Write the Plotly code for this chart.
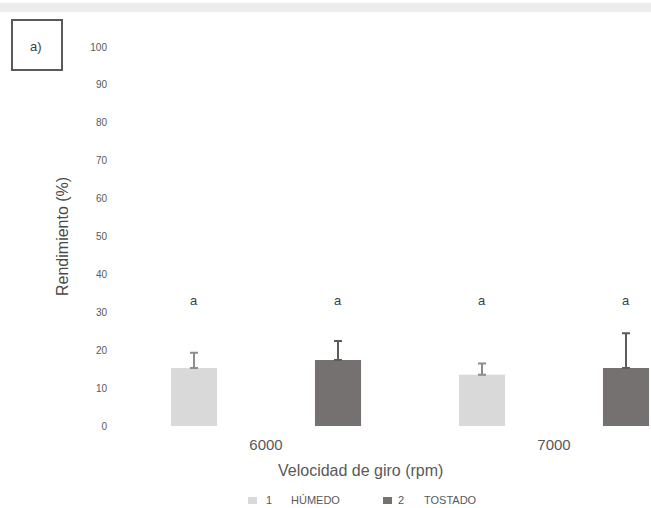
import plotly.graph_objects as go

# Data
velocidades = ["6000", "7000"]
humedo = [15.3, 13.5]
humedo_err = [4.0, 3.0]
tostado = [17.4, 15.3]
tostado_err = [5.0, 9.2]
letras_humedo = ["a", "a"]
letras_tostado = ["a", "a"]
letra_y = 33
series = [("1", "HÚMEDO"), ("2", "TOSTADO")]
color_humedo = "#d9d9d9"
color_tostado = "#767171"

W, H = 651, 508
L, R, T, B = 122, 0, 47, 82
pw, ph = W - L - R, H - T - B


def px_x(p):
    return (p - L) / pw


def px_y(p):
    return (H - B - p) / ph


font = "Liberation Sans, Arial, sans-serif"
gray_txt = "#595959"

fig = go.Figure()
fig.add_trace(go.Bar(
    x=velocidades, y=humedo, name=" ".join(series[0]),
    marker=dict(color=color_humedo, line=dict(width=0)),
    error_y=dict(type="data", array=humedo_err, arrayminus=[0, 0], symmetric=False,
                 color="#8c8c8c", thickness=2, width=4),
))
fig.add_trace(go.Bar(
    x=velocidades, y=tostado, name=" ".join(series[1]),
    marker=dict(color=color_tostado, line=dict(width=0)),
    error_y=dict(type="data", array=tostado_err, arrayminus=[0, 0], symmetric=False,
                 color="#5f5b5b", thickness=2, width=4),
))

# Significance letters above each bar
off = 0.25
for i in range(len(velocidades)):
    for dx, txt in ((-off, letras_humedo[i]), (off, letras_tostado[i])):
        fig.add_annotation(x=i + dx, y=letra_y, xref="x", yref="y", text=txt,
                           showarrow=False, font=dict(family=font, size=13, color="#404040"))

# Axis titles
fig.add_annotation(x=px_x(62), y=px_y(237), xref="paper", yref="paper",
                   xanchor="center", yanchor="middle",
                   text="Rendimiento (%)", textangle=-90, showarrow=False,
                   font=dict(family=font, size=16, color="#4a4a4a"))
fig.add_annotation(x=px_x(360), y=px_y(470), xref="paper", yref="paper",
                   xanchor="center", yanchor="middle",
                   text="Velocidad de giro (rpm)", showarrow=False,
                   font=dict(family=font, size=16, color=gray_txt))

# Legend drawn as swatches and labels under the axis title
legend_pos = [(248, 265, 290), (383, 397, 423)]
for (num, lab), col, (sx, nx, tx) in zip(series, (color_humedo, color_tostado), legend_pos):
    fig.add_shape(type="rect", xref="paper", yref="paper",
                  x0=px_x(sx), x1=px_x(sx + 9), y0=px_y(504), y1=px_y(497),
                  line=dict(width=0), fillcolor=col)
    for x_txt, txt in ((nx, num), (tx, lab)):
        fig.add_annotation(x=px_x(x_txt), y=px_y(500), xref="paper", yref="paper", text=txt,
                           xanchor="left", yanchor="middle", showarrow=False,
                           borderpad=0, font=dict(family=font, size=11, color=gray_txt))

# Panel label box
fig.add_shape(type="rect", xref="paper", yref="paper",
              x0=px_x(12), x1=px_x(62), y0=px_y(70), y1=px_y(20),
              line=dict(color="#5a5a5a", width=2), fillcolor="white")
fig.add_annotation(x=px_x(36), y=px_y(46), xref="paper", yref="paper", text="a)",
                   xanchor="center", yanchor="middle",
                   showarrow=False, font=dict(family=font, size=13, color="#404040"))

# Thin grey band along the top edge
fig.add_shape(type="rect", xref="paper", yref="paper",
              x0=px_x(0), x1=px_x(W), y0=px_y(12), y1=px_y(3),
              line=dict(width=0), fillcolor="#ececec", layer="below")

fig.update_layout(
    width=W, height=H,
    margin=dict(l=L, r=R, t=T, b=B, autoexpand=False),
    paper_bgcolor="white", plot_bgcolor="white",
    barmode="group", bargap=0.0, bargroupgap=0.68,
    font=dict(family=font, color=gray_txt),
    showlegend=False,
    xaxis=dict(type="category", range=[-0.5, -0.5 + pw / 288], showline=False,
               showgrid=False, zeroline=False, ticks="", ticklabelstandoff=8,
               tickfont=dict(size=15, color=gray_txt)),
    yaxis=dict(range=[0, 100], dtick=10, showline=False, showgrid=False, zeroline=False,
               ticks="", tickfont=dict(size=10, color=gray_txt), ticklabelstandoff=14),
)

fig.write_html("out.html")
